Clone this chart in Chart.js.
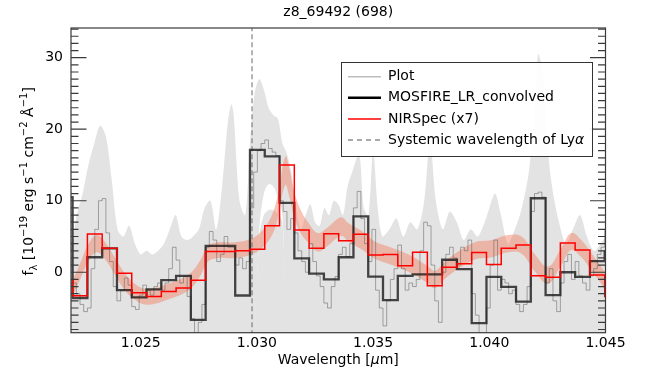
<!DOCTYPE html>
<html lang="en">
<head>
<meta charset="UTF-8">
<title>z8_69492 (698)</title>
<script src="https://cdn.jsdelivr.net/npm/chart.js"></script>
<style>
  html, body { margin: 0; padding: 0; background: #fff; }
  canvas { display: block; }
</style>
</head>
<body>
<canvas id="spec" width="649" height="373"></canvas>
<script>
const xMin = 1.022, xMax = 1.045;
const yMin = -8.45, yMax = 34.15;
const xTicks = [1.025, 1.030, 1.035, 1.040, 1.045];
const yTicks = [0, 10, 20, 30];
const lyaWave = 1.02979;

// binned spectra: left edge of first bin and bin width (um)
const binStart = 1.021434, binWidth = 0.000636;
const mosfire = [10.5, -3.6, 2.1, 3.35, -2.5, -3.5, -2.4, -1.1, -0.5, -6.65,
                 3.7, 3.7, -3.25, 17.1, 16.2, 9.7, 1.95, -0.2, -1.0, 2.1,
                 7.8, -0.6, -3.9, -0.5, -0.3, -0.3, 1.75, 0.45, -7.1, -0.65,
                 -2.05, -4.1, 10.35, -3.2, 0.0, -0.65, 1.55, 2.9];
const nirspec = [-1.0, -3.3, 5.35, 3.35, -0.15, -2.85, -3.4, -2.7, -2.2, -1.1,
                 2.9, 2.9, 3.0, 3.2, 6.5, 15.0, 5.9, 3.35, 5.4, 4.4,
                 5.3, 2.4, 2.5, 0.9, 2.8, -1.9, 0.7, 1.2, 2.75, 1.1,
                 3.35, 3.8, -0.5, -0.7, 4.1, 3.1, -0.4, -3.4];

// unbinned spectrum, 4 pixels per bin above
const plotFlux = [0, 1, 0, -1.5,  -1.5, -3, -4.5, -5.5,  -5, 0.5, 6, 10,  10.3, 5.5, 1.5, -2,
                  -4, -2.5, -0.8, -1.8,  -4.8, -5.2, -3.2, -1.8,  -2.5, -3.2, -2, -1.5,  -2.5, -1.5, 0.5, 3.5,
                  1.7, -1.5, -0.6, -3.4,  -6.5, -8.5, -7, -4.5,  3.5, 5.7, 4.5, 1.5,  2.5, 5, 3.5, 3.5,
                  1, 2, 0.5, 1.5,  9, 14, 17, 18,  18.5, 17.3, 16.8, 16.3,  10, 8.5, 6, 7.5,
                  5.5, 3, 1.5, 0,  4, 1.5, -0.5, -2,  -4.3, -5, -2, -0.6,  2.5, 3.5, 2.2, 4,
                  9, 11.3, 7.5, 4,  1.5, 6, -2.5, -5,  -7.5, -4, -1, 0.5,  3.8, 0.5, -2.5, -1.5,
                  -2, -1, 3, 7,  6.5, 1, -4, -7,  0, 2.5, 3.5, 2,  1, 3.5, 3, 4.5,
                  -3, -6, -8.5, -9.5,  -5, 1, 4.5, -2.5,  -1, -1.5, -3, -2.5,  -4.5, -5.5, -4.5, -2,
                  8.5, 11, 11.2, 10.5,  -1.5, 0.5, -4, -5.5,  -1.5, 1.5, 2.5, -1,  1.5, -0.5, -1.5, -2.5,
                  -0.5, 0.5, 2.5, 3.5,  6, 8, 8, 8];

// grey uncertainty band of the unbinned spectrum
const bandX  = [1.0218, 1.0220, 1.02225, 1.0225, 1.02275, 1.0230, 1.02325, 1.0235, 1.02375, 1.0240,
                1.02425, 1.0245, 1.02475, 1.0250, 1.02525, 1.0255, 1.02575, 1.0260, 1.02625, 1.0265,
                1.02675, 1.0270, 1.02725, 1.0275, 1.02775, 1.0280, 1.02825, 1.0285, 1.02875, 1.0289,
                1.0290, 1.02925, 1.0295, 1.0297, 1.0299, 1.0301, 1.0303, 1.0305, 1.0307, 1.0309,
                1.0311, 1.0313, 1.0315, 1.0317, 1.0319, 1.0321, 1.0323, 1.0325, 1.0327, 1.0329,
                1.0331, 1.0333, 1.0335, 1.0337, 1.0339, 1.0341, 1.0344, 1.0346, 1.0348, 1.0350,
                1.0352, 1.0354, 1.0357, 1.0360, 1.0363, 1.0366, 1.0369, 1.0372, 1.03745, 1.0377,
                1.0380, 1.0383, 1.0386, 1.0389, 1.0392, 1.0395, 1.0398, 1.0400, 1.04025, 1.0405,
                1.0408, 1.0411, 1.0414, 1.0417, 1.0420, 1.0421, 1.0423, 1.0425, 1.0427, 1.0430,
                1.0433, 1.0436, 1.0439, 1.0442, 1.0445, 1.0448, 1.0452];
const bandHi = [2, 3, 8, 11, 15, 18, 20.5, 19, 13, 6,
                5, 6.5, 4, 2.5, 3, 2.5, 3, 4, 6, 8,
                5, 4.5, 5, 6, 9, 10, 6, 12, 21, 23.5,
                22, 10, 8, 18, 25, 27, 25.5, 23, 22, 21.5,
                18, 16.5, 13.5, 8.5, 6, 8, 9.5, 7, 6.5, 9,
                8, 10, 9.5, 8, 12, 14, 16.5, 9, 8, 17,
                9, 5, 6, 7.5, 5, 7, 6, 10, 18.5, 10,
                6, 8.5, 7, 4.5, 6, 5, 7, 9, 11, 8,
                4, 6, 9, 14, 24, 30.5, 28, 18, 12, 7,
                4, 6, 8, 5, 3, 4, 6];
const bandLo = [-12, -12, -12, -12, -12, -12, -12, -12, -12, -12,
                -12, -12, -12, -12, -12, -12, -12, -12, -12, -12,
                -12, -12, -12, -12, -12, -12, -12, -12, -12, -12,
                -12, -12, -12, -12, -12, 6, 11, 12.3, 12, 10.5,
                8, -12, -12, -12, -12, -12, -12, -12, -12, -12,
                -12, -12, -12, -12, -12, -12, -12, -12, -12, -12,
                -12, -12, -12, -12, -12, -12, -12, -12, -12, -12,
                -12, -12, -12, -12, -12, -12, -12, -12, -12, -12,
                -12, -12, -12, -12, -12, -12, -12, -12, -12, -12,
                -12, -12, -12, -12, -12, -12, -12];
// grey region below the gap under the Ly-alpha peak
const gapX  = [1.0299, 1.0301, 1.0303, 1.0305, 1.0307, 1.0309, 1.0311, 1.0313];
const gapHi = [-12, 5, 8, 8.7, 8.7, 8.2, 7, -12];

// smooth NIRSpec spectrum and its uncertainty (salmon band)
const nirX   = [1.0219, 1.0223, 1.02273, 1.0231, 1.02345, 1.0239, 1.02431, 1.02474, 1.02517, 1.0256,
                1.02617, 1.02675, 1.02718, 1.0276, 1.02789, 1.02832, 1.02904, 1.02976, 1.03019, 1.03062,
                1.0309, 1.03122, 1.0314, 1.0316, 1.0319, 1.0322, 1.03262, 1.03305, 1.03362, 1.03393,
                1.0345, 1.03508, 1.03565, 1.03623, 1.0368, 1.03737, 1.03766, 1.03809, 1.03866, 1.03938,
                1.0401, 1.04081, 1.04139, 1.04196, 1.04253, 1.0431, 1.04353, 1.04396, 1.04454, 1.04505];
const nirMid = [-3.2, -0.6, 2.6, 4.0, 3.1, 0.8, -1.3, -2.7, -3.4, -3.3,
                -2.7, -2.0, -1.1, 0.8, 2.6, 3.1, 3.1, 3.6, 4.5, 6.4,
                9.2, 14.2, 12.5, 9.5, 7.0, 5.6, 4.2, 5.0, 6.4, 5.6,
                4.5, 3.1, 2.4, 1.7, 0.8, -0.4, -1.0, 0.3, 1.7, 3.0,
                3.3, 4.0, 3.8, 1.3, -0.4, 2.2, 4.3, 3.3, 0.8, -1.5];
const nirErr = [1.1, 1.1, 1.2, 1.2, 1.2, 1.2, 1.2, 1.1, 1.1, 1.1,
                1.1, 1.1, 1.1, 1.1, 1.1, 1.1, 1.1, 1.1, 1.2, 1.4,
                1.6, 2.0, 2.0, 1.8, 1.6, 1.4, 1.3, 1.3, 1.3, 1.3,
                1.3, 1.2, 1.2, 1.2, 1.2, 1.2, 1.2, 1.2, 1.2, 1.2,
                1.2, 1.2, 1.2, 1.2, 1.2, 1.2, 1.2, 1.2, 1.2, 1.2];

Chart.defaults.font.family = "'DejaVu Sans', sans-serif";
Chart.defaults.font.size = 14;
Chart.defaults.color = '#000';

const bandGrey = '#e3e3e3';

// histogram: one point on each left bin edge plus a closing point
function stepPoints(vals, start, width) {
  const pts = vals.map((v, i) => ({ x: start + i * width, y: v }));
  pts.push({ x: start + vals.length * width, y: vals[vals.length - 1] });
  return pts;
}
const xy = (xs, ys) => xs.map((x, i) => ({ x: x, y: ys[i] }));

const framePlugin = {
  id: 'frame',
  afterDraw(chart) {
    const { ctx, chartArea: a, scales: { x, y } } = chart;
    ctx.save();

    // frame and inward ticks on all four sides
    ctx.strokeStyle = '#3a3a3a';
    ctx.lineWidth = 1.2;
    ctx.strokeRect(a.left, a.top, a.right - a.left, a.bottom - a.top);
    ctx.beginPath();
    for (let i = 22; i <= 45; i++) {
      const px = x.getPixelForValue(i / 1000);
      const len = i % 5 === 0 ? 15.5 : 7.5;
      ctx.moveTo(px, a.bottom); ctx.lineTo(px, a.bottom - len);
      ctx.moveTo(px, a.top); ctx.lineTo(px, a.top + len);
    }
    for (let v = -8; v <= 34; v++) {
      const py = y.getPixelForValue(v);
      const len = v % 10 === 0 ? 15.5 : 7.5;
      ctx.moveTo(a.left, py); ctx.lineTo(a.left + len, py);
      ctx.moveTo(a.right, py); ctx.lineTo(a.right - len, py);
    }
    ctx.stroke();

    // legend
    const lx = 341, ly = 62, lw = 251, lh = 94;
    ctx.fillStyle = 'rgba(255,255,255,0.92)';
    ctx.fillRect(lx, ly, lw, lh);
    ctx.strokeStyle = '#333';
    ctx.lineWidth = 1;
    ctx.strokeRect(lx + 0.5, ly + 0.5, lw, lh);
    const items = chart.data.datasets.filter(d => d.legendLine);
    items.sort((p, q) => p.legendLine.row - q.legendLine.row);
    ctx.textBaseline = 'middle';
    items.forEach((d, i) => {
      const ry = ly + 14.7 + i * 21.1;
      const s = d.legendLine;
      ctx.strokeStyle = s.color;
      ctx.lineWidth = s.width;
      ctx.setLineDash(s.dash || []);
      ctx.beginPath();
      ctx.moveTo(348, ry); ctx.lineTo(381, ry);
      ctx.stroke();
      ctx.setLineDash([]);
      ctx.fillStyle = '#000';
      ctx.font = "14px 'DejaVu Sans'";
      if (d.label.endsWith('α')) {
        const head = d.label.slice(0, -1);
        ctx.fillText(head, 388, ry);
        const w = ctx.measureText(head).width;
        ctx.font = "italic 14px 'DejaVu Sans'";
        ctx.fillText('α', 388 + w, ry);
      } else {
        ctx.fillText(d.label, 388, ry);
      }
    });

    // title
    const cx = (a.left + a.right) / 2;
    ctx.fillStyle = '#000';
    ctx.textBaseline = 'alphabetic';
    ctx.textAlign = 'center';
    ctx.font = "14px 'DejaVu Sans'";
    ctx.fillText('z8_69492 (698)', cx, 15.5);

    // x axis title
    drawRuns(ctx, [['Wavelength [', 0, 14, ''], ['μ', 0, 14, 'italic '], ['m]', 0, 14, '']], cx, 363.5);

    // y axis title
    ctx.translate(33, (a.top + a.bottom) / 2 + 1);
    ctx.rotate(-Math.PI / 2);
    drawRuns(ctx, [['f', 0, 14, ''], ['λ', 3.5, 10, ''], [' [10', 0, 14, ''], ['−19', -6, 10, ''],
                   [' erg s', 0, 14, ''], ['−1', -6, 10, ''], [' cm', 0, 14, ''], ['−2', -6, 10, ''],
                   [' Å', 0, 14, ''], ['−1', -6, 10, ''], [']', 0, 14, '']], 0, 0);
    ctx.restore();
  }
};

// text runs with super/subscripts, centred on cx
function drawRuns(ctx, runs, cx, by) {
  ctx.textAlign = 'left';
  ctx.textBaseline = 'alphabetic';
  let total = 0;
  runs.forEach(r => { ctx.font = r[3] + r[2] + "px 'DejaVu Sans'"; total += ctx.measureText(r[0]).width; });
  let px = cx - total / 2;
  runs.forEach(r => {
    ctx.font = r[3] + r[2] + "px 'DejaVu Sans'";
    ctx.fillText(r[0], px, by + r[1]);
    px += ctx.measureText(r[0]).width;
  });
}

new Chart(document.getElementById('spec'), {
  type: 'line',
  data: {
    datasets: [
      { label: 'NIRSpec (x7)', data: stepPoints(nirspec, binStart, binWidth), stepped: 'before',
        borderColor: '#ff0000', borderWidth: 1.5, order: 0,
        legendLine: { row: 2, color: '#ff0000', width: 1.5 } },
      { label: 'MOSFIRE_LR_convolved', data: stepPoints(mosfire, binStart, binWidth), stepped: 'before',
        borderColor: 'rgba(25,25,25,0.8)', borderWidth: 2.3, order: 1,
        legendLine: { row: 1, color: '#000', width: 2.5 } },
      { label: 'Plot', data: stepPoints(plotFlux, binStart, binWidth / 4), stepped: 'before',
        borderColor: 'rgba(90,90,90,0.5)', borderWidth: 1, order: 2,
        legendLine: { row: 0, color: '#bdbdbd', width: 1.5 } },
      { label: 'Systemic wavelength of Lyα', data: [{ x: lyaWave, y: -20 }, { x: lyaWave, y: 50 }],
        borderColor: '#777', borderWidth: 1.1, borderDash: [5, 3], order: 3,
        legendLine: { row: 3, color: '#555', width: 1.2, dash: [5, 4] } },
      { label: 'nirHi', data: xy(nirX, nirMid.map((m, i) => m + nirErr[i])), fill: 5,
        backgroundColor: 'rgba(242,125,90,0.45)', borderWidth: 0, tension: 0.4, order: 4 },
      { label: 'nirLo', data: xy(nirX, nirMid.map((m, i) => m - nirErr[i])),
        borderWidth: 0, tension: 0.4, order: 5 },
      { label: 'bandHi', data: xy(bandX, bandHi), fill: 7,
        backgroundColor: bandGrey, borderWidth: 0, tension: 0.3, order: 6 },
      { label: 'bandLo', data: xy(bandX, bandLo), borderWidth: 0, tension: 0.3, order: 7 },
      { label: 'gapFloor', data: xy(gapX, gapHi), fill: 'start',
        backgroundColor: bandGrey, borderWidth: 0, tension: 0.3, order: 8 }
    ]
  },
  options: {
    responsive: false,
    animation: false,
    events: [],
    layout: { padding: { top: 28, right: 43.5, left: 0, bottom: 0 } },
    elements: { point: { radius: 0 } },
    plugins: { legend: { display: false }, tooltip: { enabled: false } },
    scales: {
      x: {
        type: 'linear', min: xMin, max: xMax,
        grid: { display: false, drawTicks: false }, border: { display: false },
        afterFit: s => { s.height = 40.3; },
        afterBuildTicks: s => { s.ticks = xTicks.map(v => ({ value: v })); },
        ticks: { padding: 2, maxRotation: 0, autoSkip: false, callback: v => v.toFixed(3) }
      },
      y: {
        type: 'linear', min: yMin, max: yMax,
        grid: { display: false, drawTicks: false }, border: { display: false },
        afterFit: s => { s.width = 71; },
        afterBuildTicks: s => { s.ticks = yTicks.map(v => ({ value: v })); },
        ticks: { padding: 8, callback: v => String(v) }
      }
    }
  },
  plugins: [framePlugin]
});
</script>
</body>
</html>
